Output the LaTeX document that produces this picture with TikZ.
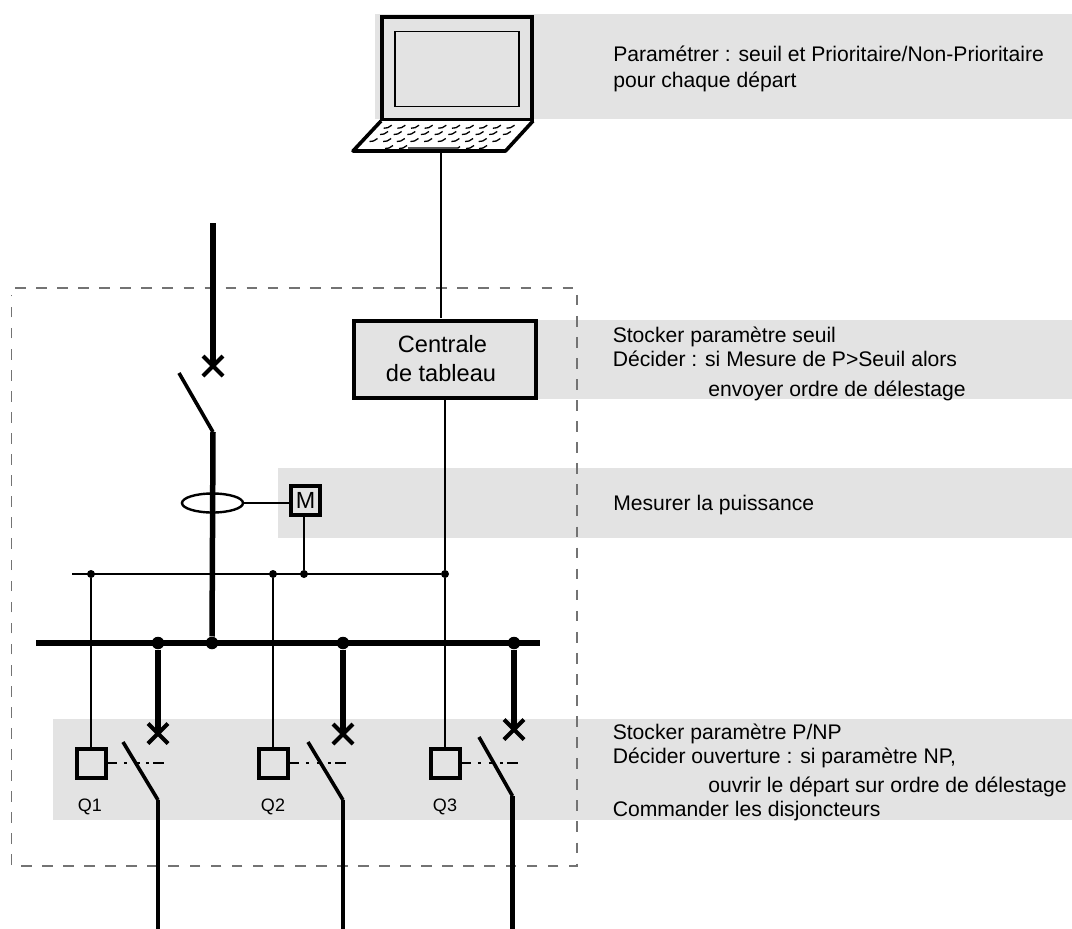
\documentclass[tikz,border=0pt]{standalone}
\usepackage{fontspec}
\setmainfont{Liberation Sans}
\usetikzlibrary{calc,shapes.geometric}
\definecolor{band}{HTML}{E3E3E3}
\tikzset{
  px/.style={line width=#1*0.75pt},
  bandbox/.style={fill=band,draw=none},
  heavy/.style={px=5.5},
  bus/.style={px=6},
  thin wire/.style={px=2.6},
  symbolbox/.style={draw=black,px=4,fill=band,minimum width=0,inner sep=0,outer sep=0,rectangle},
  dotnode/.style={circle,fill=black,inner sep=0,minimum size=#1*0.75pt},
  lbl/.style={anchor=base west,inner sep=0,font=\fontsize{15.85pt}{18pt}\selectfont},
  qlbl/.style={anchor=base,inner sep=0,font=\fontsize{13.5pt}{15pt}\selectfont},
  keymark/.style={px=1.3},
  mechlink/.style={px=2.2,dash pattern=on 8.6pt off 5.25pt on 2.25pt off 6pt on 3.75pt off 4.5pt on 1.9pt off 3.4pt on 8.25pt off 40pt},
}
\newcommand{\keytick}[2]{\draw[keymark] (#1-4,#2+1.5) -- (#1,#2+1) -- (#1+4,#2-1.5);}
\begin{document}
\begin{tikzpicture}[x=0.75pt,y=-0.75pt]
\useasboundingbox (0,0) rectangle (1072,929);
% grey bands
\fill[bandbox] (375,13.5) rectangle (1072,119);
\fill[bandbox] (538,320) rectangle (1072,399);
\fill[bandbox] (278,468) rectangle (1072,538);
\fill[bandbox] (53,719) rectangle (1072,820);
% dashed enclosure
\draw[draw=black!55,px=1.4,dash pattern=on 8pt off 7.8pt] (15,288) -- (577,288) -- (577,866) -- (11.5,866) -- (11.5,295);
% coordinates
\coordinate (busL) at (36,643);
\coordinate (busR) at (540,643);
\coordinate (sigL) at (72,574);
\node[dotnode=8] (j1) at (91,574) {};
\node[dotnode=8] (j2) at (273,574) {};
\node[dotnode=8] (j3) at (304,574) {};
\node[dotnode=8] (j4) at (445,574) {};
\node[dotnode=12.5] (b0) at (212,643) {};
\node[dotnode=12.5] (b1) at (158,643) {};
\node[dotnode=12.5] (b2) at (343,643) {};
\node[dotnode=12.5] (b3) at (514,643) {};
% laptop
\draw[px=4,line join=miter,fill=band] (382,17) rectangle (532,120) ;
\node[draw=black,px=1.5,fill=band,minimum width=124*0.75pt,minimum height=75*0.75pt,inner sep=0] (screen) at (456.75,69) {};
\draw[px=3.6,line join=round,fill=white] (381,121) -- (353,151) -- (505.5,151) -- (533,121);
\foreach \i in {0,...,9} {
  \keytick{387.7+13.65*\i}{126.7}
  \keytick{384+13.65*\i}{133}
  \keytick{373.5+13.65*\i}{140}
}
\keytick{389}{147}\keytick{403}{147}\keytick{470}{147}\keytick{483}{147}
\draw[keymark] (408,148) -- (458,148) -- (460,146.5);
\coordinate (laptopBase) at (441,152);
% control unit
\node[symbolbox,minimum width=182*0.75pt,minimum height=77*0.75pt] (cdt) at (445,359.5) {};
\node[anchor=base,inner sep=0,font=\fontsize{17.7pt}{20pt}\selectfont] (cdtA) at (442.5,352) {Centrale};
\node[anchor=base,inner sep=0,font=\fontsize{17.7pt}{20pt}\selectfont] (cdtB) at (441,381) {de tableau};
\draw[thin wire] (laptopBase) -- (441,318);
\draw[thin wire] (445,400) -- (j4);
% meter
\node[symbolbox,minimum width=29*0.75pt,minimum height=29*0.75pt,font=\fontsize{17.5pt}{17.5pt}\selectfont] (meter) at (305.5,500.3) {M};
% ring
\node[draw=black,px=2.4,ellipse,minimum width=61*0.75pt,minimum height=19*0.75pt,inner sep=0] (ring) at (212.5,503) {};
% signal wires
\draw[thin wire] (sigL) -- (j4);
\draw[thin wire] (ring.east) -- (meter.west |- ring.east);
\draw[thin wire] (304,516) -- (j3);
% Q boxes
\node[symbolbox,minimum width=29*0.75pt,minimum height=29*0.75pt] (q1) at (91,763) {};
\node[symbolbox,minimum width=29*0.75pt,minimum height=29*0.75pt] (q2) at (273,763) {};
\node[symbolbox,minimum width=29*0.75pt,minimum height=29*0.75pt] (q3) at (445,763) {};
\draw[thin wire] (j1) -- (q1.north);
\draw[thin wire] (j2) -- (q2.north);
\draw[thin wire] (j4) -- (q3.north);
% incomer
\coordinate (inTop) at (213,223);
\coordinate (x0) at (213,366);
\coordinate (p0) at (213,432);
\draw[heavy,line cap=butt] (inTop) -- (x0);
\draw[px=4] (203,356) -- (223,376) (203,376) -- (223,356);
\draw[px=3.6] (179,373) -- (p0);
\draw[heavy] (p0) -- (b0);
% busbar
\draw[bus] (busL) -- (busR);
% feeders
\coordinate (x1) at (158,733.5);
\coordinate (x2) at (343,734);
\coordinate (x3) at (514,729.5);
\draw[heavy] (b1) -- (x1);
\draw[heavy] (b2) -- (x2);
\draw[heavy] (b3) -- (x3);
\foreach \p in {x1,x2,x3} \draw[px=4] (\p)+(-10,-10) -- +(10,10) (\p)+(-10,10) -- +(10,-10);
\coordinate (p1) at (158,800);
\coordinate (p2) at (343,800);
\coordinate (p3) at (512.5,796);
\coordinate (e1) at (158,929);
\coordinate (e2) at (343,929);
\coordinate (e3) at (512.5,929);
\draw[px=3.6] (123,742) -- (p1);
\draw[px=3.6] (308,742) -- (p2);
\draw[px=3.6] (479,737) -- (p3);
\draw[px=4.5] (p1) -- (e1);
\draw[px=4.5] (p2) -- (e2);
\draw[px=4.5] (p3) -- (e3);
% mechanical links
\foreach \q/\e in {q1/164,q2/347,q3/518} {
  \draw[mechlink] (\q.east) -- (\e,763);
}
% labels
\node[qlbl] (lq1) at (90,811) {Q1};
\node[qlbl] (lq2) at (273,811) {Q2};
\node[qlbl] (lq3) at (445,811) {Q3};
\node[lbl] (t1) at (613,61) {Paramétrer : seuil et Prioritaire/Non-Prioritaire};
\node[lbl] (t2) at (613,87) {pour chaque départ};
\node[lbl] (t3) at (612.5,342) {Stocker paramètre seuil};
\node[lbl] (t4) at (612.5,366) {Décider : si Mesure de P>Seuil alors};
\node[lbl] (t5) at (708,396) {envoyer ordre de délestage};
\node[lbl] (t6) at (613,510) {Mesurer la puissance};
\node[lbl] (t7) at (612.5,739) {Stocker paramètre P/NP};
\node[lbl] (t8) at (612.5,763) {Décider ouverture : si paramètre NP,};
\node[lbl] (t9) at (708,792) {ouvrir le départ sur ordre de délestage};
\node[lbl] (t10) at (612.5,816) {Commander les disjoncteurs};
\end{tikzpicture}
\end{document}
